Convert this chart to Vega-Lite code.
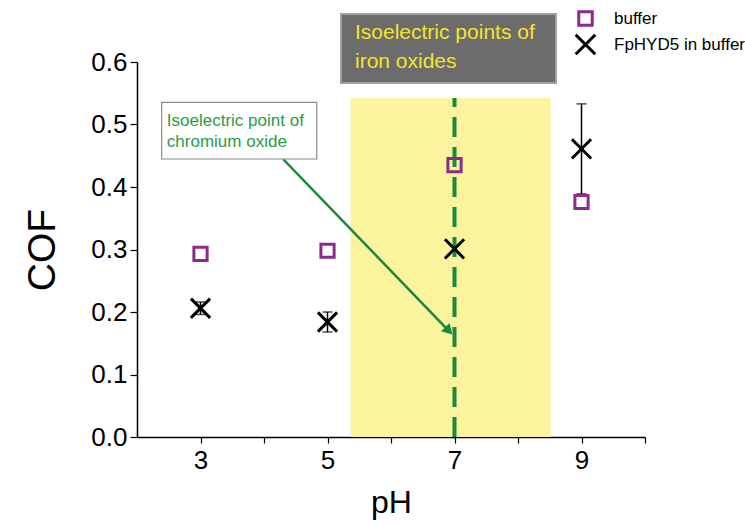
{
  "$schema": "https://vega.github.io/schema/vega-lite/v6.json",
  "width": 508,
  "height": 375,
  "autosize": {"type": "none"},
  "padding": {"left": 137, "top": 62, "right": 100, "bottom": 88},
  "background": "white",
  "config": {
    "view": {"stroke": null},
    "font": "Liberation Sans",
    "axis": {"grid": false, "domainColor": "black", "tickColor": "black", "labelColor": "black", "titleColor": "black", "labelFont": "Liberation Sans", "titleFont": "Liberation Sans", "titleFontWeight": "normal", "domainWidth": 1.5, "tickWidth": 1.2}
  },
  "datasets": {
    "region": [{"x1": 5.365, "x2": 8.515, "y1": 0, "y2": 0.5424}],
    "iepline": [{"pH": 7, "y1": 0, "y2": 0.5424}],
    "points": [
      {"pH": 3, "COF": 0.293, "series": "buffer"},
      {"pH": 5, "COF": 0.298, "series": "buffer"},
      {"pH": 7, "COF": 0.435, "series": "buffer"},
      {"pH": 9, "COF": 0.376, "series": "buffer"},
      {"pH": 3, "COF": 0.206, "series": "FpHYD5 in buffer"},
      {"pH": 5, "COF": 0.184, "series": "FpHYD5 in buffer"},
      {"pH": 7, "COF": 0.301, "series": "FpHYD5 in buffer"},
      {"pH": 9, "COF": 0.461, "series": "FpHYD5 in buffer"}
    ],
    "errors": [
      {"pH": 3, "lo": 0.196, "hi": 0.216},
      {"pH": 5, "lo": 0.168, "hi": 0.200},
      {"pH": 9, "lo": 0.389, "hi": 0.533}
    ],
    "arrow": [{"x1": 4.299, "y1": 0.4448, "x2": 6.91, "y2": 0.1699}],
    "box1": [{"x1": 2.389, "x2": 4.83, "y1": 0.4448, "y2": 0.5355, "tx": 2.47, "ty": 0.5061, "label": "Isoelectric point of\nchromium oxide"}],
    "box2": [{"x1": 5.213, "x2": 8.598, "y1": 0.5664, "y2": 0.6768, "tx": 5.433, "ty": 0.6464, "label": "Isoelectric points of\niron oxides"}]
  },
  "layer": [
    {
      "data": {"name": "region"},
      "mark": {"type": "rect", "fill": "#fbf39e"},
      "encoding": {
        "x": {"field": "x1", "type": "quantitative", "scale": {"domain": [2, 10], "nice": false, "zero": false},
          "axis": {"title": "pH", "titleFontSize": 32, "titlePadding": 14, "values": [3, 4, 5, 6, 7, 8, 9, 10], "format": "d", "labelExpr": "datum.value % 2 == 1 ? format(datum.value, 'd') : ''", "labelFontSize": 26, "tickSize": 6, "labelPadding": 4}},
        "x2": {"field": "x2"},
        "y": {"field": "y1", "type": "quantitative", "scale": {"domain": [0, 0.6], "nice": false, "zero": false},
          "axis": {"title": "COF", "titleFontSize": 39, "titlePadding": 28, "values": [0, 0.05, 0.1, 0.15, 0.2, 0.25, 0.3, 0.35, 0.4, 0.45, 0.5, 0.55, 0.6], "format": ".1f", "labelExpr": "abs(datum.value*10 - round(datum.value*10)) < 0.01 ? format(datum.value, '.1f') : ''", "labelFontSize": 26, "labelPadding": 3,
            "tickSize": {"condition": {"test": "abs(datum.value*10 - round(datum.value*10)) < 0.01", "value": 7}, "value": 4}}},
        "y2": {"field": "y2"}
      }
    },
    {
      "data": {"name": "iepline"},
      "mark": {"type": "rule", "stroke": "#1a8a3c", "strokeWidth": 4, "strokeDash": [20, 10]},
      "encoding": {
        "x": {"field": "pH", "type": "quantitative"},
        "y": {"field": "y1", "type": "quantitative"},
        "y2": {"field": "y2"}
      }
    },
    {
      "data": {"name": "errors"},
      "mark": {"type": "rule", "stroke": "black", "strokeWidth": 1.5},
      "encoding": {
        "x": {"field": "pH", "type": "quantitative"},
        "y": {"field": "lo", "type": "quantitative"},
        "y2": {"field": "hi"}
      }
    },
    {
      "data": {"name": "errors"},
      "mark": {"type": "tick", "orient": "horizontal", "size": 10, "thickness": 1.5, "color": "black"},
      "encoding": {
        "x": {"field": "pH", "type": "quantitative"},
        "y": {"field": "hi", "type": "quantitative"}
      }
    },
    {
      "data": {"name": "errors"},
      "mark": {"type": "tick", "orient": "horizontal", "size": 10, "thickness": 1.5, "color": "black"},
      "encoding": {
        "x": {"field": "pH", "type": "quantitative"},
        "y": {"field": "lo", "type": "quantitative"}
      }
    },
    {
      "data": {"name": "points"},
      "mark": {"type": "point", "filled": false, "strokeWidth": 3, "size": 175, "opacity": 1},
      "encoding": {
        "x": {"field": "pH", "type": "quantitative"},
        "y": {"field": "COF", "type": "quantitative"},
        "shape": {"field": "series", "type": "nominal",
          "scale": {"domain": ["buffer", "FpHYD5 in buffer"], "range": ["square", "M-1.45,-1.45L1.45,1.45M-1.45,1.45L1.45,-1.45"]},
          "legend": {"title": null, "orient": "none", "legendX": 440, "legendY": -52, "labelFontSize": 17, "labelFont": "Liberation Sans", "labelColor": "black", "symbolSize": 182, "symbolStrokeWidth": 3, "labelOffset": 20, "rowPadding": -4, "padding": 0}},
        "color": {"field": "series", "type": "nominal",
          "scale": {"domain": ["buffer", "FpHYD5 in buffer"], "range": ["#8c2b8c", "#000000"]},
          "legend": {"title": null, "orient": "none", "legendX": 440, "legendY": -52, "labelFontSize": 17, "labelFont": "Liberation Sans", "labelColor": "black", "symbolSize": 182, "symbolStrokeWidth": 3, "labelOffset": 20, "rowPadding": -4, "padding": 0}}
      }
    },
    {
      "data": {"name": "arrow"},
      "mark": {"type": "rule", "stroke": "#17893a", "strokeWidth": 2.5},
      "encoding": {
        "x": {"field": "x1", "type": "quantitative"},
        "y": {"field": "y1", "type": "quantitative"},
        "x2": {"field": "x2"},
        "y2": {"field": "y2"}
      }
    },
    {
      "data": {"name": "arrow"},
      "mark": {"type": "point", "shape": "triangle-up", "filled": true, "color": "#17893a", "size": 140, "angle": 136, "opacity": 1},
      "encoding": {
        "x": {"field": "x2", "type": "quantitative"},
        "y": {"field": "y2", "type": "quantitative"}
      }
    },
    {
      "data": {"name": "box1"},
      "mark": {"type": "rect", "fill": "white", "stroke": "#8a8a8a", "strokeWidth": 1.2},
      "encoding": {
        "x": {"field": "x1", "type": "quantitative"},
        "x2": {"field": "x2"},
        "y": {"field": "y1", "type": "quantitative"},
        "y2": {"field": "y2"}
      }
    },
    {
      "data": {"name": "box1"},
      "mark": {"type": "text", "align": "left", "baseline": "middle", "fontSize": 17, "lineHeight": 21, "lineBreak": "\n", "color": "#2a9c44", "font": "Liberation Sans"},
      "encoding": {
        "x": {"field": "tx", "type": "quantitative"},
        "y": {"field": "ty", "type": "quantitative"},
        "text": {"field": "label"}
      }
    },
    {
      "data": {"name": "box2"},
      "mark": {"type": "rect", "fill": "#6c6c6c", "stroke": "#a0a0a0", "strokeWidth": 2},
      "encoding": {
        "x": {"field": "x1", "type": "quantitative"},
        "x2": {"field": "x2"},
        "y": {"field": "y1", "type": "quantitative"},
        "y2": {"field": "y2"}
      }
    },
    {
      "data": {"name": "box2"},
      "mark": {"type": "text", "align": "left", "baseline": "middle", "fontSize": 21, "lineHeight": 29, "lineBreak": "\n", "color": "#f2e62a", "font": "Liberation Sans"},
      "encoding": {
        "x": {"field": "tx", "type": "quantitative"},
        "y": {"field": "ty", "type": "quantitative"},
        "text": {"field": "label"}
      }
    }
  ]
}
